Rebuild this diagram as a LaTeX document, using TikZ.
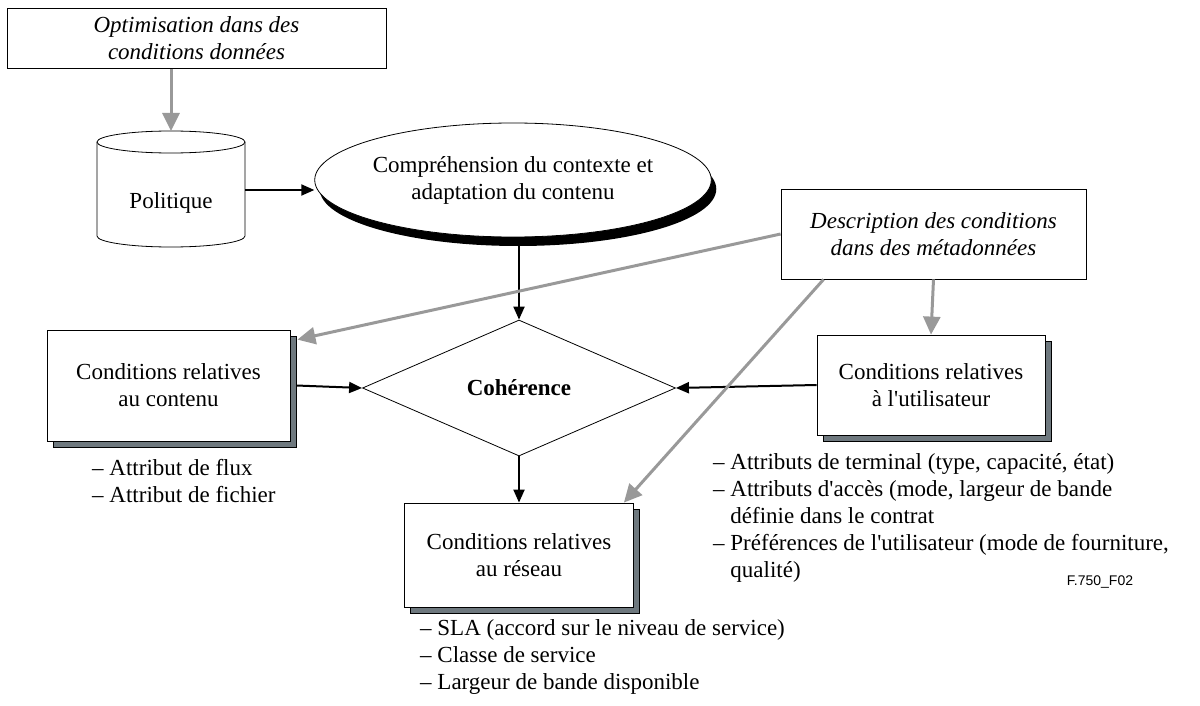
\documentclass[tikz,border=0pt]{standalone}
\usepackage{fontspec}
\setmainfont{Liberation Serif}[Ligatures=TeXOff]
\newfontfamily\figsans{Liberation Sans}
\usetikzlibrary{arrows.meta,shapes.geometric,shadows,calc}
\definecolor{shgray}{HTML}{6E787E}
\definecolor{arrgray}{HTML}{999999}
\begin{document}
\begin{tikzpicture}[x=1pt,y=-1pt,
  every node/.style={font=\fontsize{23}{27}\selectfont},
  box/.style={draw=black,line width=0.8pt,fill=white,rectangle,align=center,inner sep=0pt},
  sbox/.style={box,drop shadow={shadow xshift=6pt,shadow yshift=-6pt,fill=shgray,draw=black,line width=0.6pt,opacity=1}},
  blk/.style={line width=2pt,-{Triangle[length=13pt,width=11pt]}},
  gry/.style={draw=arrgray,line width=3pt,-{Triangle[length=18pt,width=17pt]},arrgray},
  lst/.style={anchor=north west,align=left,inner sep=0pt}
]
\useasboundingbox (0,0) rectangle (1200,706);

% top box
\node[box,minimum width=379pt,minimum height=60pt] (opt) at (196.5,38.5)
  {\itshape Optimisation dans des\\\itshape conditions données};

% cylinder
\draw[line width=0.8pt,fill=white] (97,142) -- (97,236) arc[start angle=180,end angle=360,x radius=74,y radius=-11] -- (245,142);
\draw[line width=0.8pt,fill=white] (171,142) ellipse[x radius=74,y radius=11];
\node[inner sep=0pt] (pol) at (171,203) {Politique};
\coordinate (poltop) at (171,131);
\coordinate (polright) at (245,190);

% ellipse
\node[draw,line width=0.8pt,fill=white,ellipse,minimum width=390pt,minimum height=114pt,align=center,inner sep=0pt,
  drop shadow={shadow xshift=5pt,shadow yshift=-9pt,fill=black,opacity=1}] (ctx) at (513,180)
  {Compréhension du contexte et\\adaptation du contenu};
\coordinate (ctxbot) at (519,245);

% diamond
\node[draw,line width=0.8pt,fill=white,diamond,shape aspect=2.3,minimum width=313pt,minimum height=136pt,inner sep=0pt,font=\fontsize{23}{27}\selectfont\bfseries] (coh) at (519,388) {Cohérence};

% boxes
\node[sbox,minimum width=243pt,minimum height=111pt] (cont) at (168.5,385.5) {Conditions relatives\\au contenu};
\node[sbox,minimum width=229pt,minimum height=104pt] (net) at (519,555) {Conditions relatives\\au réseau};
\node[box,minimum width=305pt,minimum height=90pt] (desc) at (933.5,234)
  {\itshape Description des conditions\\\itshape dans des métadonnées};
\node[sbox,minimum width=228pt,minimum height=100pt] (user) at (931,385) {Conditions relatives\\à l'utilisateur};

% lists
\node[lst] (lcont) at (92,459) {– Attribut de flux\\– Attribut de fichier};
\node[lst] (lnet) at (420,619) {– SLA (accord sur le niveau de service)\\– Classe de service\\– Largeur de bande disponible};
\node[lst] (luser) at (713,453) {– Attributs de terminal (type, capacité, état)\\– Attributs d'accès (mode, largeur de bande\\\phantom{– }définie dans le contrat\\– Préférences de l'utilisateur (mode de fourniture,\\\phantom{– }qualité)};
\node[inner sep=0pt,font=\figsans\fontsize{14}{16}\selectfont] (fig) at (1100,582) {F.750\_F02};

% connectors
\draw[gry] (opt.south -| poltop) -- (poltop);
\draw[blk] (polright) -- (polright -| ctx.west);
\draw[blk] (ctxbot) -- (coh.north);
\draw[blk] (cont.east) ++(6pt,0) -- (coh.west);
\draw[blk] (user.west) -- (coh.east);
\draw[blk] (coh.south) -- (net.north);
\coordinate (dsw) at ($(desc.south west)+(43,0)$);
\coordinate (conttip) at ($(cont.north east)+(7,10)$);
\coordinate (nettip) at ($(net.north east)+(-10,0)$);
\draw[gry] (desc.west) -- (conttip);
\draw[gry] (dsw) -- (nettip);
\draw[gry] (desc.south) -- (user.north);
\end{tikzpicture}
\end{document}
